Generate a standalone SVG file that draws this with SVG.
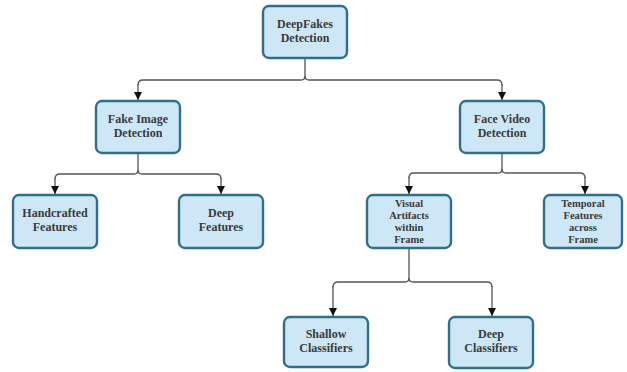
<svg xmlns="http://www.w3.org/2000/svg" width="627" height="372" viewBox="0 0 627 372">
<defs>
<marker id="ah" markerWidth="8" markerHeight="8" refX="8" refY="4" orient="auto" markerUnits="userSpaceOnUse" viewBox="0 0 8 8">
<path d="M0,0 L8,4 L0,8 Z" fill="#111"/>
</marker>
</defs>
<style>
.box{fill:#cde7f7;stroke:#2f6f8c;stroke-width:2.4}
.t{font-family:"Liberation Serif",serif;font-weight:bold;font-size:12px;fill:#3a3a3a;text-anchor:middle}
.s{font-size:10.5px}
.c{fill:none;stroke:#555;stroke-width:1.3}
.a{fill:none;stroke:#555;stroke-width:1.3;marker-end:url(#ah)}
</style>
<rect width="627" height="372" fill="#fff"/>
<g id="connectors">
<path class="c" d="M305,58 V76 Q305,80 301,80 H143 Q138,80 138,85"/>
<path class="a" d="M138,84 V100"/>
<path class="c" d="M305,76 Q305,80 309,80 H497 Q502,80 502,85"/>
<path class="a" d="M502,84 V100"/>
<path class="c" d="M138,153 V170 Q138,174 134,174 H60 Q55,174 55,179"/>
<path class="a" d="M55,178 V194"/>
<path class="c" d="M138,170 Q138,174 142,174 H216 Q221,174 221,179"/>
<path class="a" d="M221,178 V194"/>
<path class="c" d="M502,153 V169 Q502,173 498,173 H414 Q409,173 409,178"/>
<path class="a" d="M409,177 V194"/>
<path class="c" d="M502,169 Q502,173 506,173 H580 Q585,173 585,178"/>
<path class="a" d="M585,177 V194"/>
<path class="c" d="M409,248 V278 Q409,282 405,282 H338 Q333,282 333,287"/>
<path class="a" d="M333,286 V316"/>
<path class="c" d="M409,278 Q409,282 413,282 H487 Q492,282 492,287"/>
<path class="a" d="M492,286 V316"/>
</g>
<g id="n-root">
<rect class="box" x="263" y="6" width="84" height="52" rx="6"/>
<text class="t" x="305" y="28">DeepFakes</text>
<text class="t" x="305" y="41.5">Detection</text>
</g>
<g id="n-fakeimage">
<rect class="box" x="96" y="101" width="84" height="52" rx="6"/>
<text class="t" x="138" y="123">Fake Image</text>
<text class="t" x="138" y="136.5">Detection</text>
</g>
<g id="n-facevideo">
<rect class="box" x="460" y="101" width="84" height="52" rx="6"/>
<text class="t" x="502" y="123">Face Video</text>
<text class="t" x="502" y="136.5">Detection</text>
</g>
<g id="n-handcrafted">
<rect class="box" x="13" y="195" width="84" height="53" rx="6"/>
<text class="t" x="55" y="217">Handcrafted</text>
<text class="t" x="55" y="230.5">Features</text>
</g>
<g id="n-deepfeatures">
<rect class="box" x="179" y="195" width="84" height="53" rx="6"/>
<text class="t" x="221" y="217">Deep</text>
<text class="t" x="221" y="230.5">Features</text>
</g>
<g id="n-visual">
<rect class="box" x="367" y="195" width="84" height="53" rx="6"/>
<text class="t s" x="409" y="207">Visual</text>
<text class="t s" x="409" y="219">Artifacts</text>
<text class="t s" x="409" y="231">within</text>
<text class="t s" x="409" y="243">Frame</text>
</g>
<g id="n-temporal">
<rect class="box" x="544" y="195" width="78" height="53" rx="6"/>
<text class="t s" x="583" y="207">Temporal</text>
<text class="t s" x="583" y="219">Features</text>
<text class="t s" x="583" y="231">across</text>
<text class="t s" x="583" y="243">Frame</text>
</g>
<g id="n-shallow">
<rect class="box" x="284" y="317" width="84" height="50" rx="6"/>
<text class="t" x="326" y="338">Shallow</text>
<text class="t" x="326" y="351.5">Classifiers</text>
</g>
<g id="n-deepclass">
<rect class="box" x="449" y="317" width="84" height="51" rx="6"/>
<text class="t" x="491" y="338">Deep</text>
<text class="t" x="491" y="351.5">Classifiers</text>
</g>
</svg>
